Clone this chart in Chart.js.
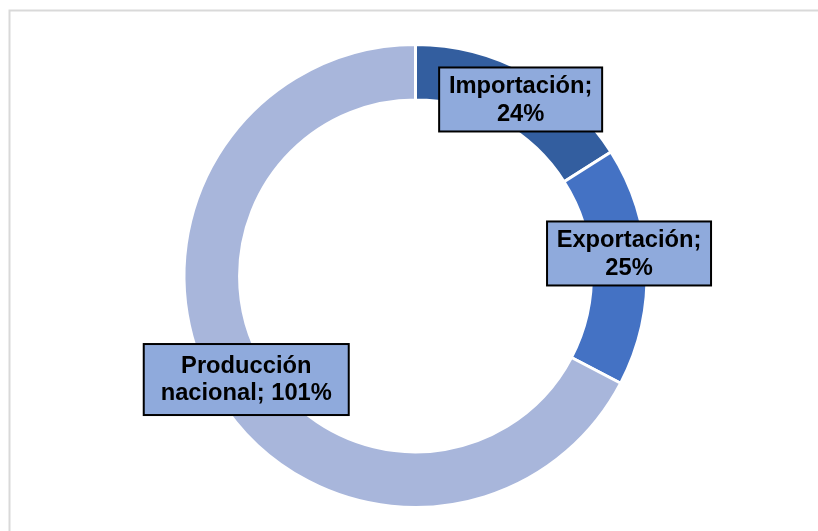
<!DOCTYPE html>
<html><head><meta charset="utf-8">
<script src="https://cdn.jsdelivr.net/npm/chart.js@4/dist/chart.umd.min.js"></script>
<style>html,body{margin:0;padding:0;background:#fff;overflow:hidden}
#wrap{position:relative;width:818px;height:531px}</style>
</head><body><div id="wrap"><canvas id="c" width="818" height="531"></canvas></div>
<script>
// ---- data ----
const categories = ['Importación', 'Exportación', 'Producción nacional'];
const values = [24, 25, 101];
const valueSuffix = '%';

// ---- styles ----
const sliceColors = ['#335e9f', '#4472c4', '#a8b6db'];
const frameColor = '#d9d9d9';
const labelStyle = {
  font: 'bold 23px "Liberation Sans", Arial, sans-serif',
  scaleX: 1.03,
  fill: '#8faadc',
  stroke: '#000000',
  lineWidth: 2,
  color: '#000000',
  boxes: [
    {dx: 7, dy: 2, w: 163, h: 64, lh: 28},
    {dx: 10, dy: -14, w: 164, h: 64, lh: 28},
    {dx: 5, dy: -2, w: 205, h: 71, lh: 27}
  ]
};

function wrapText(ctx, text, maxW, sx) {
  const words = text.split(' ');
  const lines = [];
  let cur = '';
  for (const w of words) {
    const t = cur ? cur + ' ' + w : w;
    if (cur && ctx.measureText(t).width * sx > maxW) { lines.push(cur); cur = w; }
    else cur = t;
  }
  if (cur) lines.push(cur);
  return lines;
}

const framePlugin = {
  id: 'frame',
  beforeDraw(chart) {
    const ctx = chart.ctx;
    ctx.save();
    ctx.strokeStyle = frameColor;
    ctx.lineWidth = 2;
    ctx.strokeRect(9.5, 10.5, 1000, 1000);
    ctx.restore();
  }
};

const labelPlugin = {
  id: 'boxLabels',
  afterDatasetsDraw(chart) {
    const ctx = chart.ctx;
    const meta = chart.getDatasetMeta(0);
    ctx.save();
    ctx.font = labelStyle.font;
    meta.data.forEach((arc, i) => {
      const p = arc.getProps(['x', 'y', 'startAngle', 'endAngle', 'innerRadius', 'outerRadius'], true);
      const a = (p.startAngle + p.endAngle) / 2;
      const r = (p.innerRadius + p.outerRadius) / 2;
      const b = labelStyle.boxes[i];
      const cx = p.x + Math.cos(a) * r + b.dx;
      const cy = p.y + Math.sin(a) * r + b.dy;
      ctx.fillStyle = labelStyle.fill;
      ctx.fillRect(cx - b.w / 2, cy - b.h / 2, b.w, b.h);
      ctx.strokeStyle = labelStyle.stroke;
      ctx.lineWidth = labelStyle.lineWidth;
      ctx.strokeRect(cx - b.w / 2, cy - b.h / 2, b.w, b.h);
      const text = categories[i] + '; ' + values[i] + valueSuffix;
      const lines = wrapText(ctx, text, b.w - 12, labelStyle.scaleX);
      ctx.fillStyle = labelStyle.color;
      ctx.textAlign = 'center';
      ctx.textBaseline = 'middle';
      const y0 = cy - (lines.length - 1) * b.lh / 2;
      lines.forEach((ln, k) => {
        ctx.save();
        ctx.translate(cx, y0 + k * b.lh + 1);
        ctx.scale(labelStyle.scaleX, 1);
        ctx.fillText(ln, 0, 0);
        ctx.restore();
      });
    });
    ctx.restore();
  }
};

new Chart(document.getElementById('c'), {
  type: 'doughnut',
  data: {
    labels: categories,
    datasets: [{
      data: values,
      backgroundColor: sliceColors,
      borderColor: '#ffffff',
      borderWidth: 3
    }]
  },
  options: {
    responsive: false,
    animation: false,
    cutout: '76%',
    layout: {padding: {top: 43, bottom: 22, left: 13, right: 0}},
    plugins: {legend: {display: false}, tooltip: {enabled: false}}
  },
  plugins: [framePlugin, labelPlugin]
});
</script>
</body></html>
